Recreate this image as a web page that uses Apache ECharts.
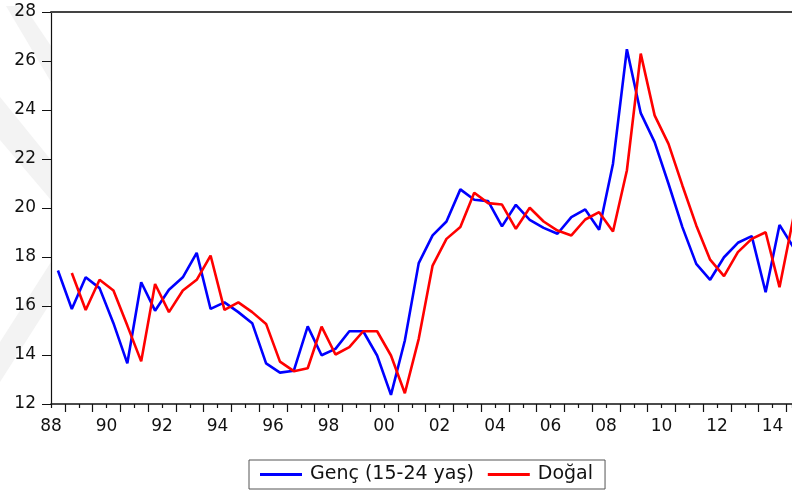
<!DOCTYPE html>
<html lang="tr">
<head>
<meta charset="UTF-8">
<title>Genç ve Doğal</title>
<style>
  html, body { margin: 0; padding: 0; background: #fff; }
  #chart { width: 792px; height: 492px; }
</style>
</head>
<body>
<div id="chart"></div>
<script src="https://cdn.jsdelivr.net/npm/echarts@6/dist/echarts.min.js"></script>
<script>
// semi-annual observations, 1988 S1 .. 2014 S2
var firstYear = 1988;
var lastYear = 2014;
var periods = [];
for (var y = firstYear; y <= lastYear; y++) {
    periods.push(y + 'S1');
    periods.push(y + 'S2');
}

var gencValues = [
    17.45, 15.88, 17.17, 16.73, 15.30, 13.66, 16.97, 15.81, 16.66, 17.17,
    18.17, 15.88, 16.15, 15.75, 15.30, 13.66, 13.28, 13.36, 15.17, 13.99,
    14.25, 14.97, 14.97, 13.98, 12.37, 14.59, 17.75, 18.88, 19.45, 20.76,
    20.34, 20.28, 19.25, 20.13, 19.52, 19.19, 18.95, 19.63, 19.94, 19.11,
    21.81, 26.48, 23.87, 22.69, 20.99, 19.22, 17.72, 17.07, 17.99, 18.58,
    18.85, 16.56, 19.31, 18.40
];

var dogalValues = [
    null, 17.35, 15.84, 17.07, 16.63, 15.20, 13.74, 16.90, 15.75, 16.63,
    17.07, 18.06, 15.84, 16.15, 15.75, 15.27, 13.73, 13.34, 13.46, 15.16,
    14.02, 14.32, 14.97, 14.97, 13.98, 12.44, 14.66, 17.65, 18.74, 19.22,
    20.62, 20.20, 20.14, 19.15, 20.01, 19.45, 19.08, 18.88, 19.53, 19.83,
    19.04, 21.53, 26.30, 23.78, 22.62, 20.92, 19.29, 17.89, 17.22, 18.20,
    18.74, 19.01, 16.77, 19.60
];

var seriesNames = ['Genç (15-24 yaş)', 'Doğal'];
var yTicks = [12, 14, 16, 18, 20, 22, 24, 26, 28];

// a semi-annual period sits in the middle of its half year
function periodPos(p) {
    var yr = parseInt(p.slice(0, 4), 10);
    return p.slice(4) === 'S1' ? yr + 0.25 : yr + 0.75;
}
function toPairs(values) {
    return values.map(function (v, i) { return [periodPos(periods[i]), v]; });
}

var font = 'DejaVu Sans';
var chart = echarts.init(document.getElementById('chart'), null, { renderer: 'canvas' });

var option = {
    animation: false,
    backgroundColor: '#fff',
    graphic: [
        { type: 'polygon', z: -10, silent: true,
          shape: { points: [[6, 6], [24, 6], [51, 46], [51, 82]] },
          style: { fill: '#f3f3f3' } },
        { type: 'polygon', z: -10, silent: true,
          shape: { points: [[0, 97], [0, 140], [51, 200], [51, 160]] },
          style: { fill: '#f3f3f3' } },
        { type: 'polygon', z: -10, silent: true,
          shape: { points: [[51, 262], [51, 302], [0, 382], [0, 342]] },
          style: { fill: '#f3f3f3' } }
    ],
    grid: { left: 51, right: 0, top: 12, bottom: 88, containLabel: false },
    legend: {
        left: 249,
        top: 460,
        data: seriesNames,
        icon: 'rect',
        itemWidth: 42,
        itemHeight: 3,
        itemGap: 14,
        padding: [5, 12, 5, 11],
        borderColor: '#555',
        borderWidth: 1,
        textStyle: { fontFamily: font, fontSize: 19, color: '#111', padding: [0, 0, 0, 3] }
    },
    xAxis: [{
        type: 'value',
        min: 1988,
        max: 2014.7,
        interval: 1,
        splitLine: { show: false },
        axisLine: { show: true, onZero: false, lineStyle: { color: '#111', width: 1.5 } },
        axisTick: { show: true, inside: false, length: 4, lineStyle: { color: '#111', width: 1.2 } },
        minorTick: { show: true, splitNumber: 2, length: 8, lineStyle: { color: '#111', width: 1.2 } },
        axisLabel: {
            margin: 14,
            fontFamily: font,
            fontSize: 17,
            color: '#111',
            showMaxLabel: false,
            formatter: function (v) {
                if (Math.abs(v - Math.round(v)) > 1e-6 || Math.round(v) % 2 !== 0) return '';
                var s = String(Math.round(v) % 100);
                return s.length < 2 ? '0' + s : s;
            }
        }
    }, {
        type: 'value',
        position: 'top',
        min: 1988,
        max: 2014.7,
        axisLine: { show: true, onZero: false, lineStyle: { color: '#444', width: 2 } },
        axisTick: { show: false },
        axisLabel: { show: false },
        splitLine: { show: false }
    }],
    yAxis: {
        type: 'value',
        min: yTicks[0],
        max: yTicks[yTicks.length - 1],
        interval: 2,
        splitLine: { show: false },
        axisLine: { show: true, onZero: false, lineStyle: { color: '#111', width: 1.2 } },
        axisTick: { show: true, length: 9, lineStyle: { color: '#111', width: 1 } },
        axisLabel: { margin: 15, fontFamily: font, fontSize: 17, color: '#111' }
    },
    series: [{
        name: seriesNames[0],
        type: 'line',
        data: toPairs(gencValues),
        symbol: 'none',
        clip: true,
        lineStyle: { color: '#0000ff', width: 2.6 },
        itemStyle: { color: '#0000ff' },
        z: 3
    }, {
        name: seriesNames[1],
        type: 'line',
        data: toPairs(dogalValues),
        symbol: 'none',
        clip: true,
        connectNulls: false,
        lineStyle: { color: '#ff0000', width: 2.6 },
        itemStyle: { color: '#ff0000' },
        z: 4
    }]
};
chart.setOption(option);
</script>
</body>
</html>
